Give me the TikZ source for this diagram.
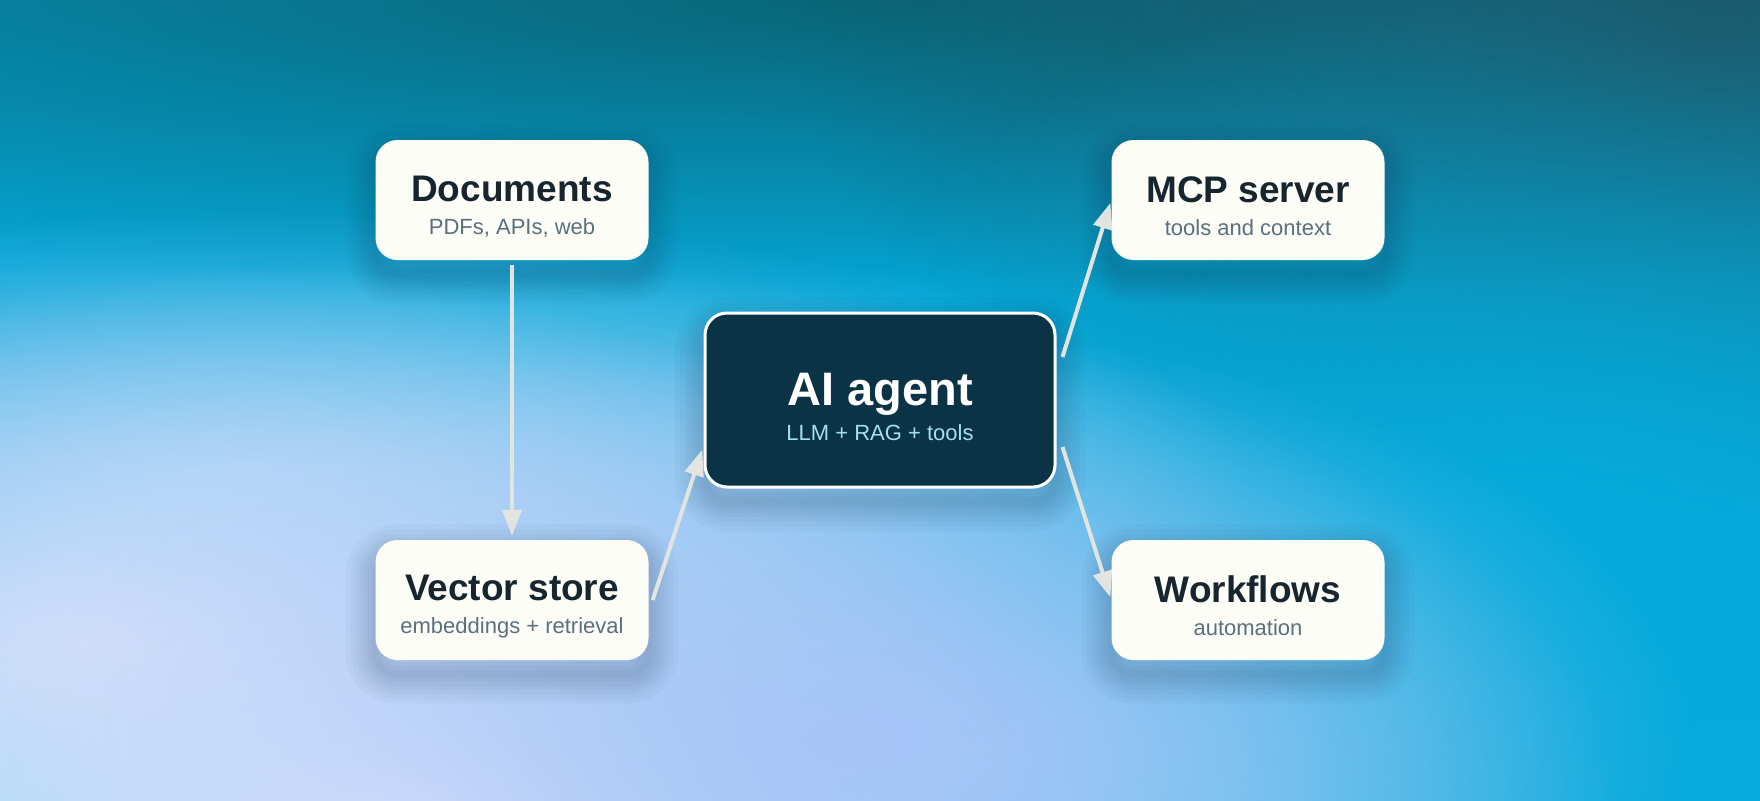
\documentclass[tikz,border=0pt]{standalone}
\usepackage{fontspec}
\setmainfont{Liberation Sans}
\usetikzlibrary{arrows.meta,fadings}

\definecolor{boxfill}{HTML}{FDFDF8}
\definecolor{titlecol}{HTML}{17252E}
\definecolor{subcol}{HTML}{5B6F7C}
\definecolor{agentfill}{HTML}{0A3345}
\definecolor{agentsub}{HTML}{A3E0EC}
\definecolor{arrowcol}{HTML}{E2E4E0}
\definecolor{shadowcol}{HTML}{1C3450}
\definecolor{bgtop}{HTML}{137488}
\definecolor{bgupper}{HTML}{0B8FB2}
\definecolor{bgmid}{HTML}{03A6D6}
\definecolor{bgbot}{HTML}{10AEE0}
\definecolor{glowlav}{HTML}{E6EAFD}
\definecolor{glowperi}{HTML}{A8C4F8}
\definecolor{glowsky}{HTML}{7AC4F0}
\definecolor{glowpale}{HTML}{B8D2F9}
\definecolor{glowteal}{HTML}{0A6577}
\definecolor{glowdark}{HTML}{1E5565}
\definecolor{glowcyan}{HTML}{05ACDC}

\pgfdeclareverticalshading{bgshade}{100bp}{color(0bp)=(bgbot); color(71bp)=(bgmid);
	color(85bp)=(bgupper); color(100bp)=(bgtop)}
\tikzfading[name=softglow,inner color=transparent!0,outer color=transparent!100]
\newcommand\subfont{\mdseries\fontsize{22}{26}\selectfont}

\begin{document}
\begin{tikzpicture}
[x=1pt,y=-1pt,
sh/.style={preaction={draw=shadowcol,draw opacity=.03,line width=#1,
	transform canvas={yshift=-14pt}}},
every node/.style={align=center,rounded corners=22pt,inner sep=0pt,
	sh=60pt,sh=50pt,sh=40pt,sh=32pt,sh=24pt,sh=16pt,sh=8pt},
box/.style={fill=boxfill,text=titlecol,minimum width=273pt,minimum height=120pt,
	font=\bfseries\fontsize{37}{33}\selectfont},
agent/.style={fill=agentfill,draw=white,line width=3pt,text=white,minimum width=350pt,
	minimum height=174pt,font=\bfseries\fontsize{47}{35}\selectfont},
arr/.style={draw=arrowcol,line width=4pt,-{Triangle[length=26pt,width=19pt]}},
glow/.style={fill=#1,path fading=softglow}]

% background
\useasboundingbox (0,0) rectangle (1760,800);
\shade[shading=bgshade] (0,0) rectangle (1760,800);
\fill[glow=glowteal] (900,0) ellipse (2000 and 300);
\fill[glow=glowdark] (1700,40) ellipse (900 and 500);
\fill[glow=glowcyan] (1550,560) ellipse (800 and 600);
\fill[glow=glowsky] (250,470) ellipse (1000 and 260);
\fill[glow=glowpale] (100,640) ellipse (900 and 380);
\fill[glow=glowlav] (420,820) ellipse (1200 and 560);
\fill[glow=glowperi] (850,740) ellipse (840 and 420);

% nodes
\node[box] (doc) at (512,200) {\rule{0pt}{38pt}Documents\\{\subfont\color{subcol}PDFs, APIs, web}};
\node[box] (vec) at (512,600) {\rule{0pt}{38pt}Vector store\\{\subfont\color{subcol}embeddings + retrieval}};
\node[agent] (agent) at (880,400) {\rule{0pt}{46pt}AI agent\\{\subfont\color{agentsub}LLM + RAG + tools}};
\node[box] (mcp) at (1248,200) {\rule{0pt}{38pt}MCP server\\{\subfont\color{subcol}tools and context}};
\node[box] (wf) at (1248,600) {\rule{0pt}{38pt}Workflows\\{\subfont\color{subcol}automation}};

% connectors
\draw[arr,shorten <=5pt,shorten >=4pt] (doc.south) -- (vec.north);
\draw[arr,shorten >=4pt] ([xshift=4pt]vec.east) -- ([yshift=-46pt]agent.west);
\draw[arr,shorten >=3pt] ([xshift=6pt,yshift=43pt]agent.east) -- (mcp.west);
\draw[arr,shorten >=3pt] ([xshift=6pt,yshift=-47pt]agent.east) -- (wf.west);
\end{tikzpicture}
\end{document}
